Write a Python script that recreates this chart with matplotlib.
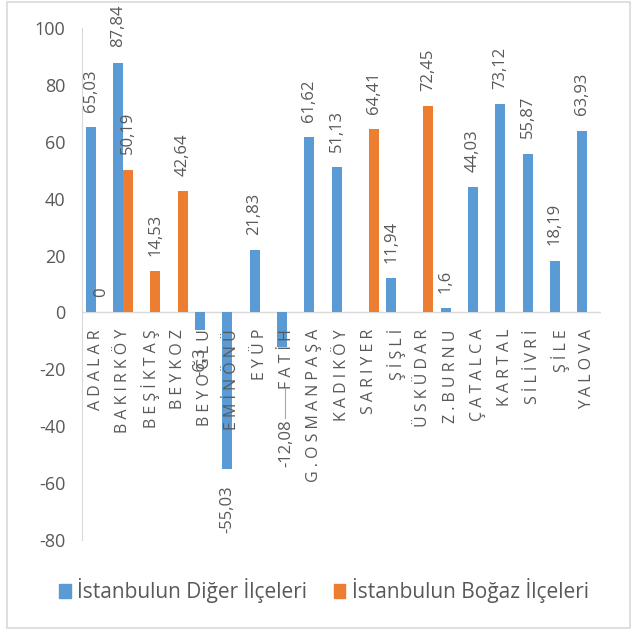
import numpy as np
import matplotlib.pyplot as plt
from matplotlib.patches import Rectangle, Patch

plt.rcParams['font.family'] = ['Open Sans', 'DejaVu Sans']
plt.rcParams['axes.unicode_minus'] = False

# ilçeler
ilceler = ["ADALAR", "BAKIRKÖY", "BEŞİKTAŞ", "BEYKOZ", "BEYOĞLU", "EMİNÖNÜ", "EYÜP",
           "FATİH", "G.OSMANPAŞA", "KADIKÖY", "SARIYER", "ŞİŞLİ", "ÜSKÜDAR", "Z.BURNU",
           "ÇATALCA", "KARTAL", "SİLİVRİ", "ŞİLE", "YALOVA"]
# None = değer yok
diger = [65.03, 87.84, None, None, -6.3, -55.03, 21.83, -12.08, 61.62, 51.13,
         None, 11.94, None, 1.6, 44.03, 73.12, 55.87, 18.19, 63.93]
bogaz = [0, 50.19, 14.53, 42.64, None, None, None, None, None, None,
         64.41, None, 72.45, None, None, None, None, None, None]

mavi = "#5B9BD5"
turuncu = "#ED7D31"
gri = "#595959"

fig = plt.figure(figsize=(6.35, 6.35), dpi=100)
ax = fig.add_axes([82/635, 95/635, 519/635, 512/635])

x = np.arange(len(ilceler))
w = 0.366

for seri, ofs, renk in [(diger, -w/2, mavi), (bogaz, w/2, turuncu)]:
    xs = [i + ofs for i, v in enumerate(seri) if v is not None]
    vs = [v for v in seri if v is not None]
    ax.bar(xs, vs, width=w, color=renk, zorder=2)
    for xi, v in zip(xs, vs):
        txt = ("%.2f" % v).rstrip("0").rstrip(".").replace(".", ",")
        if ilceler[int(round(xi - ofs))] == "FATİH":
            # etiket aşağı taşınmış, kılavuz çizgili
            ax.text(xi + 0.18, -37.5, txt, rotation=90, ha="center", va="top",
                    fontsize=12, color=gri)
            ax.plot([xi + 0.12, xi + 0.12], [-27, -37], color="#a6a6a6", lw=0.8)
            continue
        if v >= 0:
            ax.annotate(txt, (xi, v), xytext=(0, 11), textcoords="offset points",
                        rotation=90, ha="center", va="bottom", fontsize=12, color=gri)
        else:
            ax.annotate(txt, (xi, v), xytext=(0, -12), textcoords="offset points",
                        rotation=90, ha="center", va="top", fontsize=12, color=gri)

# kategori etiketleri sıfır çizgisinin altında
for i, ad in enumerate(ilceler):
    ax.annotate(" ".join(ad), (i, 0), xytext=(0, -12), textcoords="offset points",
                rotation=90, ha="center", va="top", fontsize=11.5, color=gri)

ax.axhline(0, color="#d9d9d9", lw=1, zorder=1)
ax.set_xlim(-0.5, len(ilceler) - 0.5)
ax.set_ylim(-80, 100)
ax.set_yticks(np.arange(-80, 101, 20))
ax.tick_params(axis="y", length=0, labelsize=13, labelcolor=gri, pad=12)
ax.set_xticks([])
for s in ["top", "right", "bottom"]:
    ax.spines[s].set_visible(False)
ax.spines["left"].set_color("#d9d9d9")

fig.legend(handles=[Patch(color=mavi, label="İstanbulun Diğer İlçeleri"),
                    Patch(color=turuncu, label="İstanbulun Boğaz İlçeleri")],
           loc="center", bbox_to_anchor=(0.51, 0.07), ncol=2, frameon=False,
           fontsize=15, labelcolor=gri, handlelength=0.55, handleheight=0.65,
           handletextpad=0.3, columnspacing=1.3)

fig.patches.append(Rectangle((7/635, 7/635), 623/635, 626/635, transform=fig.transFigure,
                             fill=False, edgecolor="#d9d9d9", lw=1.2))

fig.savefig("out.png", dpi=100, facecolor="white")
